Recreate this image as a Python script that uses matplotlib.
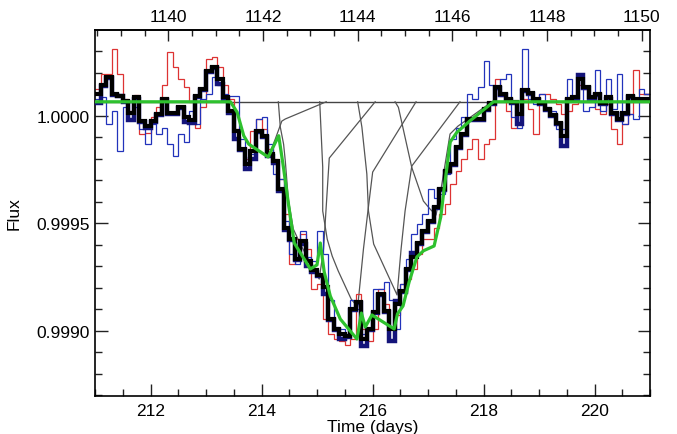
import numpy as np
import matplotlib
matplotlib.use("Agg")
import matplotlib.pyplot as plt
from matplotlib.ticker import MultipleLocator, FormatStrFormatter, FixedLocator

plt.rcParams['font.family'] = ['Liberation Sans', 'DejaVu Sans']

# ---------------- data (flux deviations in ppm relative to 1.0) ----------------
t_start, t_stop, n_bins = 211.0, 221.0, 100   # 0.1-day bins

black_ppm = [100, 145, 180, 100, 90, 70, 15, 85, -25, -50,
             -25, 10, 80, 15, 15, 40, -5, -20, 90, 125,
             210, 225, 170, 85, 20, -70, -155, -225, -165, -70,
             -95, -180, -210, -340, -520, -575, -665, -585, -675, -720,
             -740, -795, -945, -990, -1015, -1025, -900, -865, -1040, -990,
             -915, -830, -910, -990, -875, -815, -715, -655, -590, -535,
             -490, -425, -340, -255, -225, -145, -85, -15, -15, -15,
             30, 60, 135, 100, 80, 65, 10, 120, 105, 80,
             60, 30, 5, -35, -95, 80, 85, 170, 135, 85,
             100, 60, 85, 15, -15, 15, 90, 80, 80, 80]

navy_ppm = [60, 140, 175, 95, 90, 65, -20, 80, -30, -55,
            -30, 5, 75, 10, 10, 35, -30, -35, 85, 120,
            205, 220, 150, 80, 15, -110, -160, -250, -200, -75,
            -100, -185, -220, -350, -530, -580, -670, -595, -700, -725,
            -745, -830, -950, -995, -1040, -1030, -905, -870, -1070, -995,
            -920, -835, -915, -1050, -860, -820, -720, -640, -595, -540,
            -495, -430, -345, -260, -230, -150, -90, -20, -20, -20,
            25, 55, 130, 95, 75, 60, -40, 115, 100, 75,
            55, 25, 0, -40, -140, 75, 80, 190, 130, 80,
            95, 55, 80, 10, -20, 10, 85, 75, 75, 75]

red_ppm = [125, 195, 195, 310, 195, 80, 20, 95, -85, -80,
           -5, 40, 145, 295, 225, 170, 135, 65, -55, 40,
           265, 275, 225, 145, 80, -60, -155, -200, -70, -15,
           -60, -155, -200, -295, -455, -690, -575, -550, -620, -805,
           -785, -945, -1015, -1040, -1050, -1065, -1040, -830, -990, -1050,
           -990, -805, -875, -990, -925, -785, -760, -715, -645, -575,
           -575, -520, -457, -410, -318, -257, -201, -155, -108, -201,
           -130, -108, 170, 90, 20, -55, 10, 80, 30, -85,
           100, 100, 80, 55, 10, 20, 55, 145, 125, 80,
           30, 10, 55, -60, -130, -40, 10, 215, 100, 100]

blue_ppm = [80, 85, -40, 20, -165, 40, 65, 40, -60, -130,
            -40, -85, -55, -130, -185, -85, -120, 20, -40, 80,
            100, 180, 145, 100, 90, 90, -110, -250, -180, -15,
            -5, -130, -270, -295, -490, -645, -690, -535, -655, -675,
            -535, -645, -855, -985, -990, -1015, -855, -900, -1015, -990,
            -805, -805, -775, -855, -990, -785, -665, -550, -505, -455,
            -340, -385, -365, -270, -110, -55, -5, 100, 80, 135,
            255, 145, 125, 170, 195, -5, -55, 310, 80, 55,
            100, 40, 20, -60, -60, 170, 80, 180, 20, 40,
            215, 20, 170, 30, 195, -40, 10, -15, 125, 100]

# model (green)
model_t = [211.00, 213.44, 213.56, 213.68, 213.77, 214.12, 214.31, 214.40, 214.49,
           214.59, 214.88, 215.00, 215.06, 215.13, 215.24, 215.42, 215.72, 215.80,
           215.87, 215.99, 216.39, 216.45, 216.55, 216.66, 216.80, 216.92, 217.11,
           217.23, 217.29, 217.40, 217.52, 217.76, 218.18, 221.00]
model_ppm = [65, 65, 17, -93, -132, -192, -93, -248, -419,
             -592, -713, -694, -592, -727, -839, -946, -1039, -918,
             -983, -927, -992, -922, -885, -773, -657, -628, -606,
             -471, -341, -122, -77, -23, 65, 65]

# individual component curves (gray)
comp0_t = [213.439, 213.560, 213.679, 213.768, 214.123, 214.249, 214.366, 214.429, 215.166]
comp0_ppm = [65, 17, -94, -132, -192, -108, -25, -15, 65]
comp1_t = [214.303, 214.339, 214.398, 214.429, 214.483, 214.573, 214.699, 215.040, 215.118, 215.221, 216.048]
comp1_ppm = [65, -53, -132, -211, -387, -527, -597, -760, -620, -197, 65]
comp2_t = [215.049, 215.103, 215.103, 215.184, 215.274, 215.382, 215.616, 215.733, 215.837, 215.922, 216.003, 216.785]
comp2_ppm = [65, -239, -443, -574, -653, -722, -853, -890, -620, -434, -262, 65]
comp3_t = [215.733, 215.809, 215.898, 215.927, 216.021, 216.443, 216.515, 216.587, 216.708, 217.576]
comp3_ppm = [65, -53, -271, -443, -597, -834, -620, -443, -234, 65]
comp4_t = [216.407, 216.467, 216.708, 216.917, 217.037, 217.145, 217.235, 217.397, 217.541, 218.152]
comp4_ppm = [65, 39, -241, -397, -434, -462, -341, -85, -48, 65]

baseline_ppm = 65

# top-axis ticks and mapping
top_ticks = [1140, 1142, 1144, 1146, 1148, 1150]
top_minor = [1138.5 + 0.5 * k for k in range(24)]
top_ref_day, top_ref_val, top_scale = 212.324, 1140.0, 1.1728


def to_flux(ppm):
    return 1.0 + np.asarray(ppm, dtype=float) * 1e-6


# ---------------- figure ----------------
fig = plt.figure(figsize=(6.77, 4.35), dpi=100)
ax = fig.add_axes([95 / 677, 38 / 435, 555 / 677, 366 / 435])

edges = np.linspace(t_start, t_stop, n_bins + 1)

ax.axhline(to_flux(baseline_ppm), color='#444444', lw=1.0, zorder=1)
for ct, cp in [(comp0_t, comp0_ppm), (comp1_t, comp1_ppm), (comp2_t, comp2_ppm),
               (comp3_t, comp3_ppm), (comp4_t, comp4_ppm)]:
    ax.plot(ct, to_flux(cp), color='#555555', lw=0.9, zorder=1)

ax.stairs(to_flux(red_ppm), edges, baseline=None, color='#dd3333', lw=0.9, zorder=2)
ax.stairs(to_flux(blue_ppm), edges, baseline=None, color='#2233bb', lw=0.9, zorder=2)
ax.stairs(to_flux(navy_ppm), edges, baseline=None, color='#14147a', lw=3.2, zorder=3)
ax.stairs(to_flux(black_ppm), edges, baseline=None, color='black', lw=3.0, zorder=4)

ax.plot(model_t, to_flux(model_ppm), color='#2ec12e', lw=2.3, zorder=5)

ax.set_xlim(t_start, t_stop)
ax.set_ylim(0.998696, 1.000399)

ax.xaxis.set_major_locator(MultipleLocator(2))
ax.xaxis.set_minor_locator(MultipleLocator(0.5))
ax.yaxis.set_major_locator(MultipleLocator(0.0005))
ax.yaxis.set_minor_locator(MultipleLocator(0.0001))
ax.yaxis.set_major_formatter(FormatStrFormatter('%.4f'))

ax.tick_params(which='both', direction='in', top=False, right=True,
               labelsize=12.5, width=1.0, color='#222222')
ax.tick_params(which='major', length=9)
ax.tick_params(which='minor', length=5)
ax.tick_params(axis='x', pad=5)
ax.tick_params(axis='y', pad=4)

secax = ax.secondary_xaxis(
    'top',
    functions=(lambda d: top_ref_val + (d - top_ref_day) * top_scale,
               lambda v: top_ref_day + (v - top_ref_val) / top_scale))
secax.xaxis.set_major_locator(FixedLocator(top_ticks))
secax.xaxis.set_minor_locator(FixedLocator(top_minor))
secax.tick_params(which='both', direction='in', labelsize=12.5, width=1.0, pad=4,
                  color='#222222')
secax.tick_params(which='major', length=8)
secax.tick_params(which='minor', length=4)

for sp in ax.spines.values():
    sp.set_linewidth(1.2)
secax.spines['top'].set_linewidth(1.2)

ax.set_xlabel('Time (days)', fontsize=12.5, labelpad=1)
ax.set_ylabel('Flux', fontsize=12.5)
ax.yaxis.set_label_coords(-0.132, 0.5)

fig.savefig('out.png', dpi=100)
